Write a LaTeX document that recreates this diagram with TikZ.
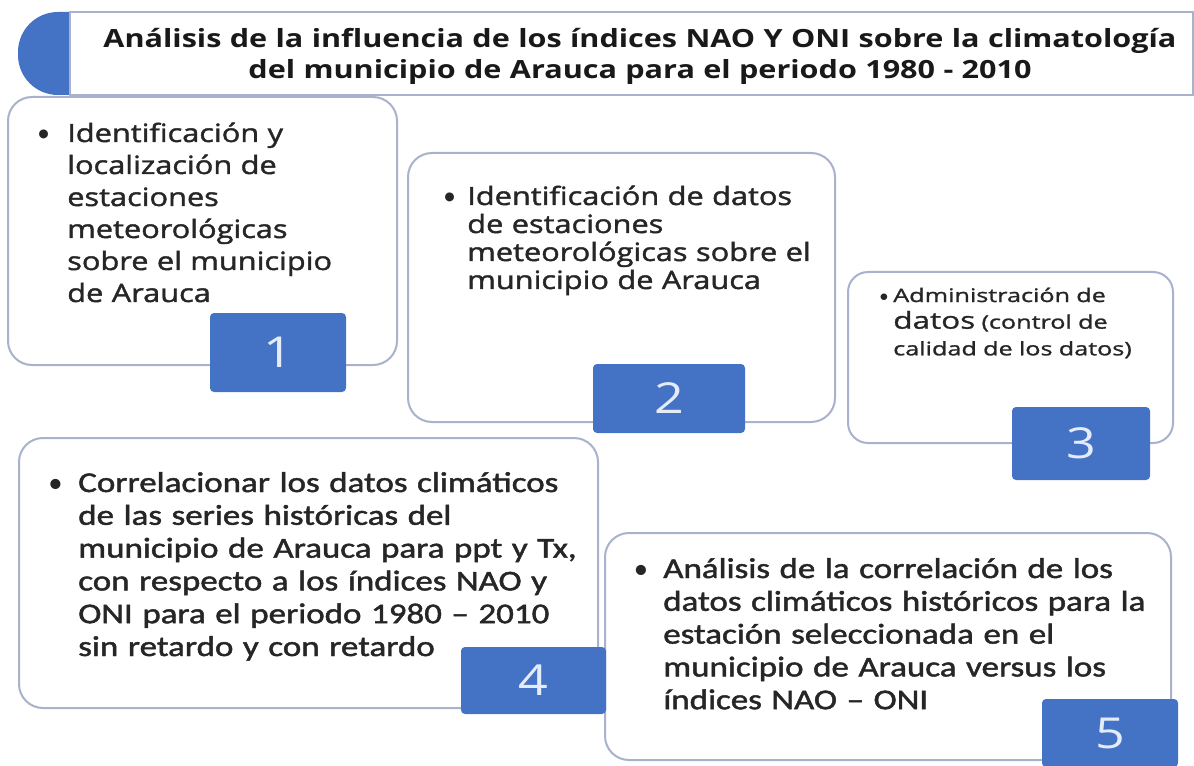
\documentclass[tikz,border=0pt]{standalone}
\usepackage{fontspec}
\setmainfont{Open Sans}[FakeStretch=1.22]
\newfontfamily\bodyfont{Open Sans}[FakeStretch=1.22,FakeBold=1.6]
\newfontfamily\calfont{Carlito}[FakeStretch=1.22,FakeBold=1.6]
\newfontfamily\widefont{Open Sans}[FakeStretch=1.35,FakeBold=1.2]
\newfontfamily\bulfont{Carlito}
\definecolor{accent}{RGB}{68,114,196}
\definecolor{boxline}{RGB}{168,178,204}
\definecolor{txtcol}{RGB}{38,38,38}
\definecolor{numcol}{RGB}{228,236,250}
\newcommand{\bul}[1]{\llap{\makebox[#1][l]{{\bulfont\textbullet}}}}
\begin{document}
\begin{tikzpicture}[x=0.75pt,y=-0.75pt,
  stepbox/.style={draw=boxline, line width=1.5pt, fill=white, rounded corners=18pt},
  badge/.style={fill=accent, rounded corners=3pt, text=numcol, inner sep=0pt,
                font=\fontsize{32}{32}\selectfont},
  txt/.style={anchor=base west, inner sep=0pt, text width=600pt, align=left, text=txtcol},
  osans/.style={font=\bodyfont\fontsize{18.9}{#1}\selectfont},
  cal/.style={font=\calfont\fontsize{21.5}{24.6}\selectfont}]
\useasboundingbox (0,0) rectangle (1194,766);
% title
\fill[accent, rounded corners=30pt] (18,12) rectangle (110,95);
\draw[draw=boxline, line width=1.5pt, fill=white] (70,12) rectangle (1193,95);
\node[anchor=base, inner sep=0pt, text width=840pt, align=center,
      font=\bfseries\fontsize{18.8}{23}\selectfont, text={rgb,255:red,25;green,25;blue,25}]
  (title) at (640,48) {Análisis de la influencia de los índices NAO Y ONI sobre la climatología\\
  del municipio de Arauca para el periodo 1980 - 2010};
% boxes
\draw[stepbox] (8,97) rectangle (397,365);
\draw[stepbox] (408,153) rectangle (835,422);
\draw[stepbox, rounded corners=15pt] (848,272) rectangle (1173,443);
\draw[stepbox] (19,438) rectangle (598,708);
\draw[stepbox] (605,533) rectangle (1171,760);
% texts
\node[txt, osans=24] (t1) at (67,142) {\bul{22.5pt}Identificación y\\
localización de\\ estaciones\\ meteorológicas\\ sobre el municipio\\ de Arauca};
\node[txt, osans=21] (t2) at (467,205) {\bul{18pt}Identificación de datos\\
de estaciones\\ meteorológicas sobre el\\ municipio de Arauca};
\node[txt, font=\widefont\fontsize{14}{20}\selectfont] (t3) at (893,302)
  {\bul{10.5pt}Administración de\\ {\fontsize{17.5}{20}\selectfont datos} (control de\\ calidad de los datos)};
\node[txt, cal] (t4) at (78,492) {\bul{22.5pt}Correlacionar los datos climáticos\\
de las series históricas del\\ municipio de Arauca para ppt y Tx,\\
con respecto a los índices NAO y\\ ONI para el periodo 1980 – 2010\\ sin retardo y con retardo};
\node[txt, cal] (t5) at (663,578) {\bul{22pt}Análisis de la correlación de los\\
datos climáticos históricos para la\\ estación seleccionada en el\\
municipio de Arauca versus los\\ índices NAO – ONI};
% badges
\node[badge, minimum width=102pt, minimum height=59.25pt] (n1) at (278,352.5) {1};
\node[badge, minimum width=114pt, minimum height=51.75pt] (n2) at (669,398.5) {2};
\node[badge, minimum width=103.5pt, minimum height=54.75pt] (n3) at (1081,443.5) {3};
\node[badge, minimum width=108.75pt, minimum height=50.25pt] (n4) at (533.5,680.5) {4};
\node[badge, minimum width=102pt, minimum height=51pt] (n5) at (1110,733) {5};
\end{tikzpicture}
\end{document}
